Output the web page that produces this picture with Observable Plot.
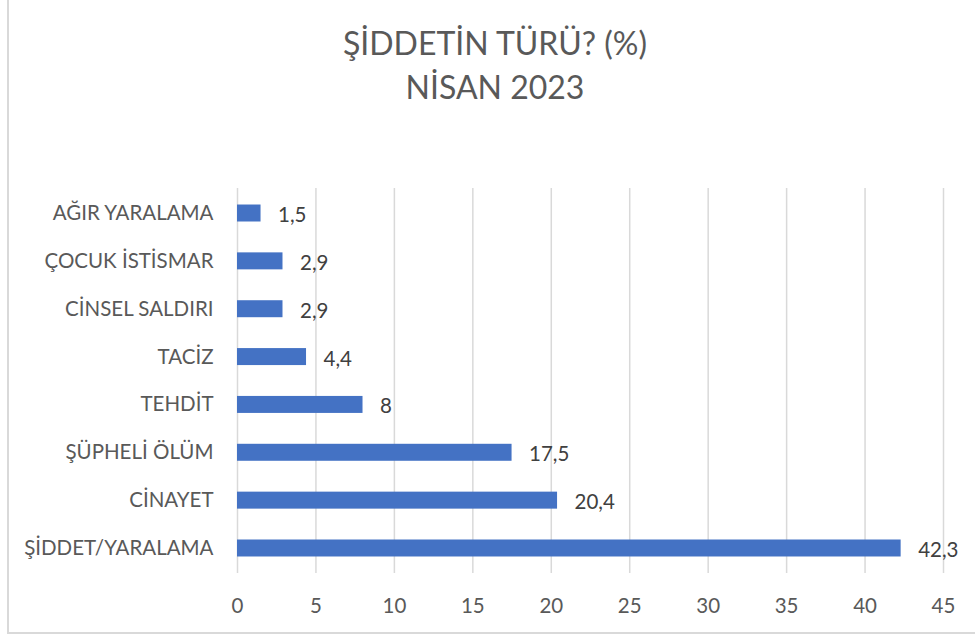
<!DOCTYPE html>
<html><head><meta charset="utf-8">
<script src="https://cdn.jsdelivr.net/npm/d3@7"></script>
<script src="https://cdn.jsdelivr.net/npm/@observablehq/plot@0.6"></script>
<style>
html,body{margin:0;padding:0;background:#fff;}
#wrap{position:relative;width:975px;height:639px;overflow:hidden;font-family:Lato,sans-serif;}
#frame{position:absolute;left:7px;top:-5px;width:980px;height:639px;border:2px solid #d9d9d9;box-sizing:border-box;}
#title{position:absolute;left:0;top:21px;width:990px;text-align:center;color:#595959;font-size:32px;line-height:44px;}
#chart{position:absolute;left:0;top:170px;}
</style></head>
<body><div id="wrap"><div id="frame"></div>
<div id="title">ŞİDDETİN TÜRÜ? (%)<br>NİSAN 2023</div>
<div id="chart"></div></div>
<script>
const categories = ["AĞIR YARALAMA","ÇOCUK İSTİSMAR","CİNSEL SALDIRI","TACİZ","TEHDİT","ŞÜPHELİ ÖLÜM","CİNAYET","ŞİDDET/YARALAMA"];
const values = [1.5, 2.9, 2.9, 4.4, 8, 17.5, 20.4, 42.3];
const xTicks = [0,5,10,15,20,25,30,35,40,45];
const data = categories.map((c,i)=>({cat:c, v:values[i]}));
const fmt = v => String(v).replace(".", ",");
const chart = Plot.plot({
  width: 975, height: 469,
  marginTop: 18, marginBottom: 66, marginLeft: 237, marginRight: 32,
  style: {fontFamily: "Lato, sans-serif", fontSize: "20px", color: "#595959", background: "transparent", overflow: "visible"},
  x: {domain: [0,45], ticks: xTicks, label: null},
  y: {domain: categories, paddingInner: 0.645, paddingOuter: 0.345, round: false, label: null},
  marks: [
    Plot.gridX(xTicks, {stroke: "#d9d9d9", strokeOpacity: 1, strokeWidth: 1.5}),
    Plot.barX(data, {x: "v", y: "cat", fill: "#4472c4"}),
    Plot.text(data, {x: "v", y: "cat", text: d => fmt(d.v), textAnchor: "start", dx: 17, dy: 2, fill: "#404040", fontSize: 20.5}),
    Plot.axisX({ticks: xTicks, anchor: "bottom", tickSize: 0, tickPadding: 25, fontSize: 20.5, tickFormat: d => d}),
    Plot.axisY({tickSize: 0, tickPadding: 24, fontSize: 20.5})
  ]
});
document.getElementById("chart").appendChild(chart);
</script></body></html>
